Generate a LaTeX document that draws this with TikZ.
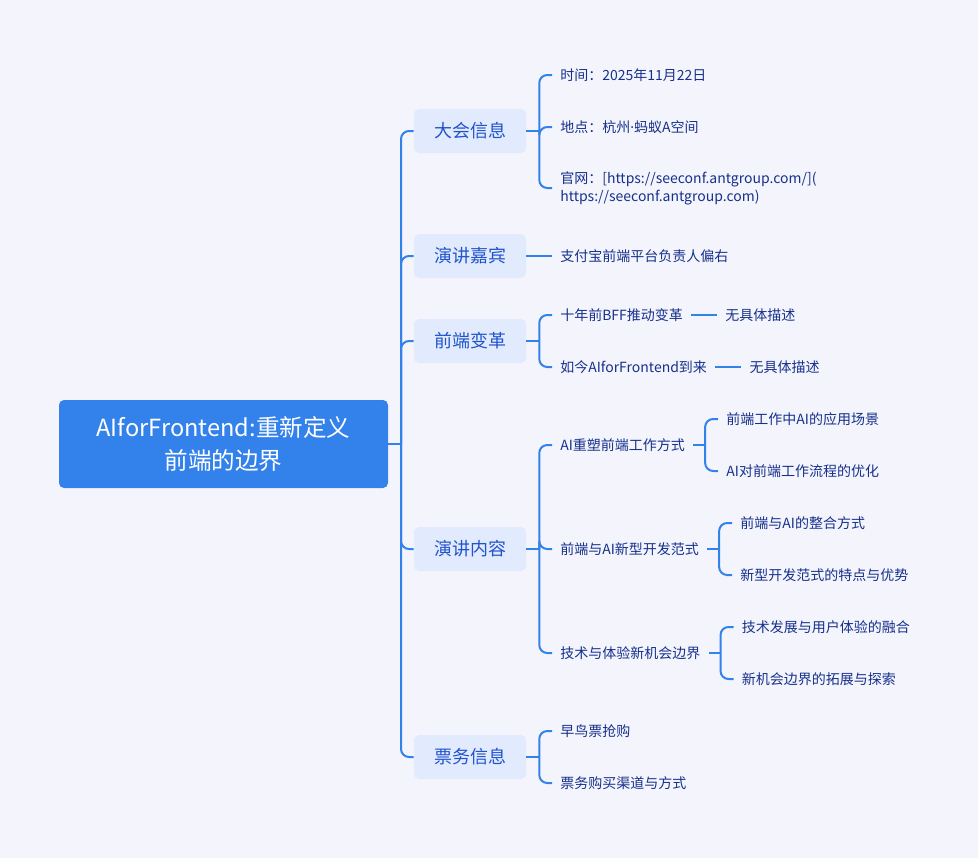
\documentclass[tikz,border=0pt]{standalone}
\usepackage{fontspec}
\setmainfont{Noto Sans CJK SC}
\newfontfamily\latinf{Noto Sans}
\definecolor{bgc}{RGB}{244,245,252}
\definecolor{rootc}{RGB}{51,129,235}
\definecolor{linec}{RGB}{51,129,235}
\definecolor{boxc}{RGB}{226,234,253}
\definecolor{btext}{RGB}{32,84,205}
\definecolor{ltext}{RGB}{22,48,140}
\tikzset{
  rootbox/.style={rectangle, rounded corners=3.75pt, fill=rootc, text=white,
    minimum width=246.75pt, minimum height=66pt, align=center,
    font=\fontsize{17.7pt}{24.75pt}\selectfont, inner sep=0pt},
  branchbox/.style={rectangle, rounded corners=3.75pt, fill=boxc, text=btext,
    minimum width=84pt, minimum height=33pt, inner sep=0pt,
    font=\fontsize{13.5pt}{16pt}\selectfont},
  leaf/.style={anchor=west, text=ltext, inner xsep=6pt, inner ysep=0pt,
    align=left, font=\fontsize{10.5pt}{13.5pt}\selectfont},
  conn/.style={draw=linec, line width=1.5pt},
  elbow/.style={conn, rounded corners=6pt},
}
\begin{document}
\begin{tikzpicture}[x=0.75pt, y=-0.75pt]
\fill[bgc] (0,0) rectangle (978,858);
\useasboundingbox (0,0) rectangle (978,858);

\node[rootbox] (root) at (223.5,444) {AIforFrontend:重新定义\\前端的边界};
\coordinate (trunk) at (401,444);

\node[branchbox] (b1) at (470,131) {大会信息};
\node[branchbox] (b2) at (470,256) {演讲嘉宾};
\node[branchbox] (b3) at (470,341) {前端变革};
\node[branchbox] (b4) at (470,549) {演讲内容};
\node[branchbox] (b5) at (470,757) {票务信息};

\draw[conn] (root.east) -- (trunk);
\foreach \b in {b1,b2,b3,b4,b5}{
  \draw[elbow] (trunk) |- (\b.west);
}

% level 2 leaves
\node[leaf] (l11) at (552,75) {时间：2025年11月22日};
\node[leaf] (l12) at (552,127) {地点：杭州{\latinf ·}蚂蚁A空间};
\node[leaf] (l13) at (552,188) {官网：[https://seeconf.antgroup.com/](\\https://seeconf.antgroup.com)};
\node[leaf] (l21) at (552,256) {支付宝前端平台负责人偏右};
\node[leaf] (l31) at (552,315) {十年前BFF推动变革};
\node[leaf] (l32) at (552,367) {如今AIforFrontend到来};
\node[leaf] (l41) at (552,445) {AI重塑前端工作方式};
\node[leaf] (l42) at (552,549) {前端与AI新型开发范式};
\node[leaf] (l43) at (552,653) {技术与体验新机会边界};
\node[leaf] (l51) at (552,731) {早鸟票抢购};
\node[leaf] (l52) at (552,783) {票务购买渠道与方式};

\draw[conn] (b1.east) -- ++(13,0) coordinate (j1);
\foreach \c in {l11,l12,l13}{\draw[elbow] (j1) |- (\c.west);}
\draw[conn] (b2.east) -- (l21.west);
\draw[conn] (b3.east) -- ++(13,0) coordinate (j3);
\foreach \c in {l31,l32}{\draw[elbow] (j3) |- (\c.west);}
\draw[conn] (b4.east) -- ++(13,0) coordinate (j4);
\foreach \c in {l41,l42,l43}{\draw[elbow] (j4) |- (\c.west);}
\draw[conn] (b5.east) -- ++(13,0) coordinate (j5);
\foreach \c in {l51,l52}{\draw[elbow] (j5) |- (\c.west);}

% level 3
\node[leaf] (m31) at ([xshift=19.5pt]l31.east) {无具体描述};
\node[leaf] (m32) at ([xshift=19.5pt]l32.east) {无具体描述};
\draw[conn] (l31.east) -- (m31.west);
\draw[conn] (l32.east) -- (m32.west);

\coordinate (k1) at ([xshift=9pt]l41.east);
\coordinate (k2) at ([xshift=9pt]l42.east);
\coordinate (k3) at ([xshift=9pt]l43.east);
\coordinate (y1) at (0,419);
\coordinate (y2) at (0,471);
\coordinate (y3) at (0,523);
\coordinate (y4) at (0,575);
\coordinate (y5) at (0,627);
\coordinate (y6) at (0,679);

\node[leaf] (m411) at ([xshift=9.75pt]k1 |- y1) {前端工作中AI的应用场景};
\node[leaf] (m412) at ([xshift=9.75pt]k1 |- y2) {AI对前端工作流程的优化};
\draw[conn] (l41.east) -- (k1);
\foreach \c in {m411,m412}{\draw[elbow] (k1) |- (\c.west);}

\node[leaf] (m421) at ([xshift=9.75pt]k2 |- y3) {前端与AI的整合方式};
\node[leaf] (m422) at ([xshift=9.75pt]k2 |- y4) {新型开发范式的特点与优势};
\draw[conn] (l42.east) -- (k2);
\foreach \c in {m421,m422}{\draw[elbow] (k2) |- (\c.west);}

\node[leaf] (m431) at ([xshift=9.75pt]k3 |- y5) {技术发展与用户体验的融合};
\node[leaf] (m432) at ([xshift=9.75pt]k3 |- y6) {新机会边界的拓展与探索};
\draw[conn] (l43.east) -- (k3);
\foreach \c in {m431,m432}{\draw[elbow] (k3) |- (\c.west);}
\end{tikzpicture}
\end{document}
